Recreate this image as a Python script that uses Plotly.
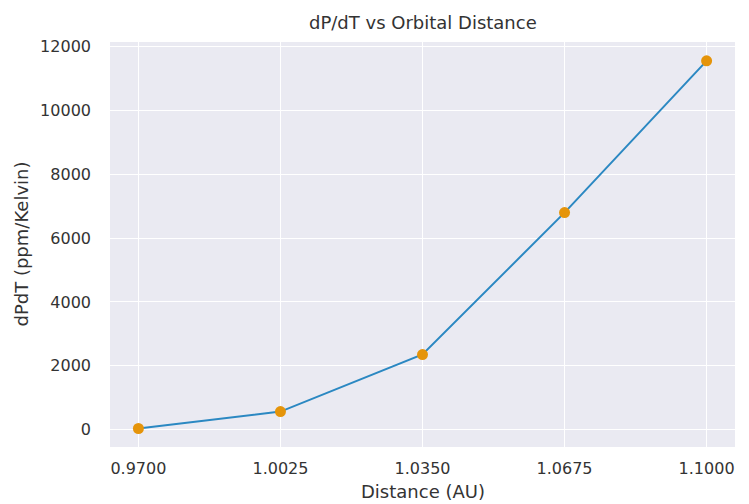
import plotly.graph_objects as go

distance = [0.97, 1.0025, 1.035, 1.0675, 1.1]
dpdt = [30, 560, 2350, 6800, 11560]
x_ticks = [0.97, 1.0025, 1.035, 1.0675, 1.1]
y_ticks = [0, 2000, 4000, 6000, 8000, 10000, 12000]

font = "DejaVu Sans"
txt = "#333333"
fig = go.Figure()
fig.add_trace(go.Scatter(x=distance, y=dpdt, mode="lines",
                         line=dict(color="#2b88c2", width=2), showlegend=False))
fig.add_trace(go.Scatter(x=distance, y=dpdt, mode="markers",
                         marker=dict(color="#E5940A", size=11), showlegend=False))

fig.update_layout(
    width=749, height=504,
    paper_bgcolor="white", plot_bgcolor="#EAEAF2",
    margin=dict(l=102, r=22, t=34, b=65),
    font=dict(family=font, color=txt),
    annotations=[
        dict(text="dP/dT vs Orbital Distance", x=0.5, xref="paper", y=1, yref="paper",
             yshift=20, yanchor="middle", xanchor="center",
             showarrow=False, font=dict(size=18, color=txt)),
        dict(text="Distance (AU)", x=0.5, xref="paper", y=0, yref="paper", yshift=-44,
             yanchor="middle", xanchor="center",
             showarrow=False, font=dict(size=18, color=txt)),
        dict(text="dPdT (ppm/Kelvin)", x=0, xref="paper", xshift=-89, y=0.5, yref="paper",
             yanchor="middle", xanchor="center",
             textangle=-90, showarrow=False, font=dict(size=18, color=txt)),
    ],
)

fig.update_xaxes(range=[0.9635, 1.1065], tickvals=x_ticks,
                 ticktext=[f"{v:.4f}" for v in x_ticks], automargin=False,
                 showgrid=True, gridcolor="white", gridwidth=1.3, zeroline=False,
                 showline=False, ticks="", ticklabelstandoff=10,
                 tickfont=dict(size=16, color=txt))
fig.update_yaxes(range=[-550, 12150], tickvals=y_ticks,
                 ticktext=[str(v) for v in y_ticks], automargin=False,
                 showgrid=True, gridcolor="white", gridwidth=1.3, zeroline=False,
                 showline=False, ticks="", ticklabelstandoff=18,
                 tickfont=dict(size=16, color=txt))

fig.write_html("out.html")
